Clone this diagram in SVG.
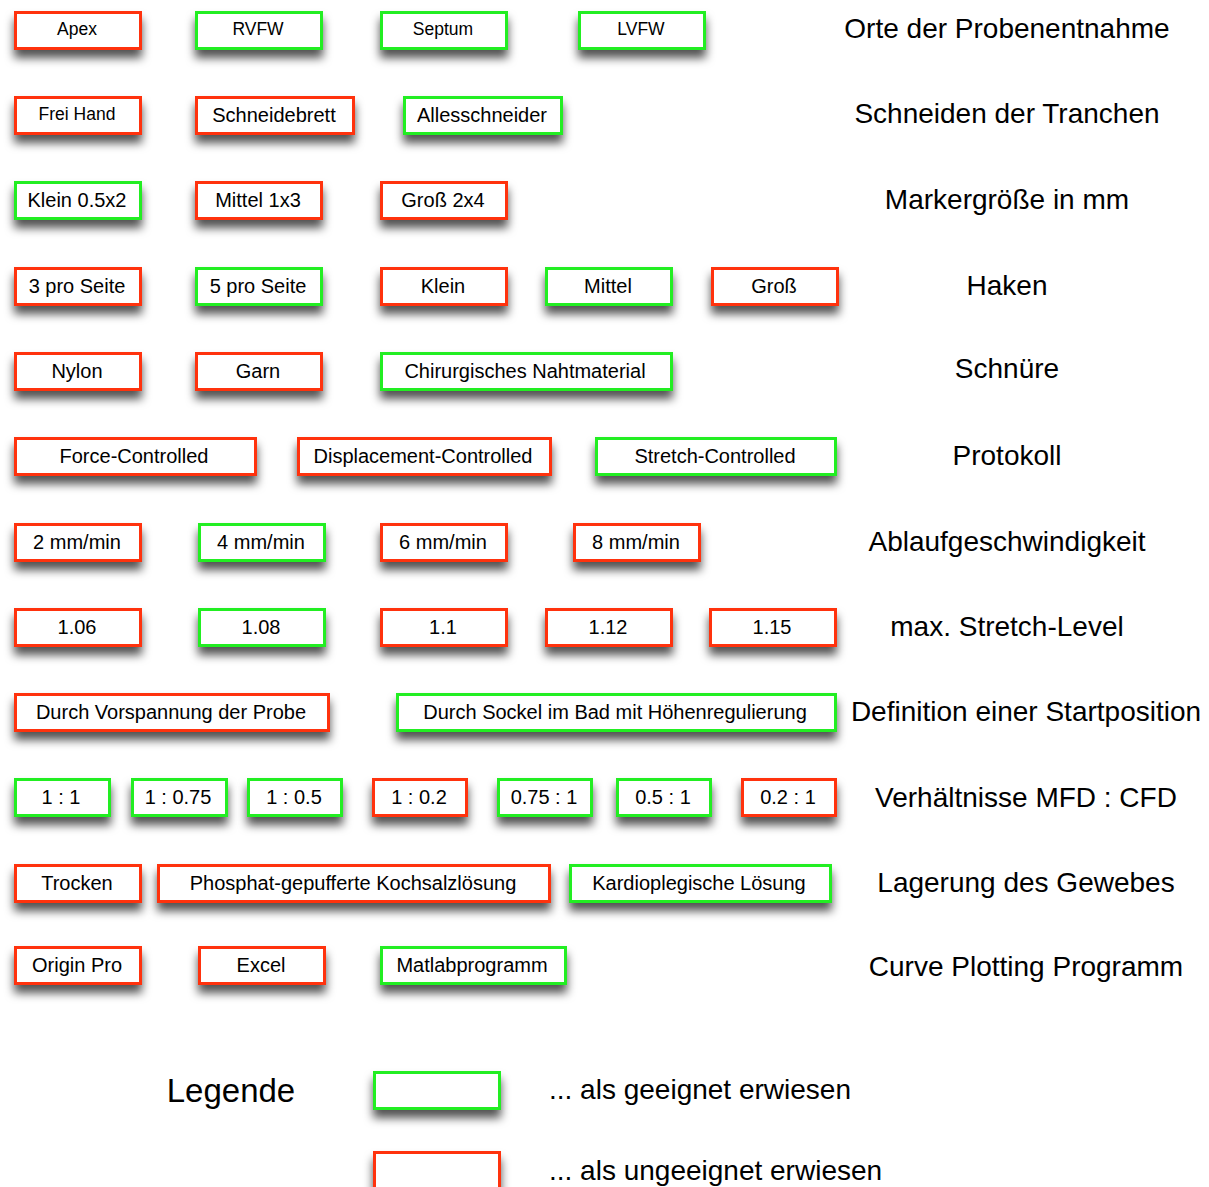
<svg xmlns="http://www.w3.org/2000/svg" width="1209" height="1187" viewBox="0 0 1209 1187">
<style>
.box{fill:#ffffff;stroke-width:3;filter:url(#sh)}
.ok{stroke:#22ee22}
.bad{stroke:#ff3311}
text{font-family:"Liberation Sans",Arial,Helvetica,sans-serif;fill:#000}
.t{font-size:20px;text-anchor:middle}
.ts{font-size:17.5px;text-anchor:middle}
.lbl{font-size:28px;text-anchor:middle}
.leg{font-size:28px}
</style>
<defs>
<filter id="sh" x="-15%" y="-40%" width="130%" height="220%">
<feDropShadow dx="0" dy="8" stdDeviation="5" flood-color="#000" flood-opacity="0.68"/>
</filter>
</defs>
<rect x="0" y="0" width="1209" height="1187" fill="#ffffff"/>
<g id="connectors"/>

<!-- Row 1 -->
<g id="n-apex"><rect class="box bad" x="15.5" y="12.5" width="125" height="36"/><text class="ts" x="77" y="35">Apex</text></g>
<g id="n-rvfw"><rect class="box ok" x="196.5" y="12.5" width="125" height="36"/><text class="ts" x="258" y="35">RVFW</text></g>
<g id="n-septum"><rect class="box ok" x="381.5" y="12.5" width="125" height="36"/><text class="ts" x="443" y="35">Septum</text></g>
<g id="n-lvfw"><rect class="box ok" x="579.5" y="12.5" width="125" height="36"/><text class="ts" x="641" y="35">LVFW</text></g>
<text class="lbl" x="1007" y="38">Orte der Probenentnahme</text>

<!-- Row 2 -->
<g id="n-freihand"><rect class="box bad" x="15.5" y="97.5" width="125" height="36"/><text class="ts" x="77" y="120">Frei Hand</text></g>
<g id="n-schneidebrett"><rect class="box bad" x="196.5" y="97.5" width="157" height="36"/><text class="t" x="274" y="122">Schneidebrett</text></g>
<g id="n-allesschneider"><rect class="box ok" x="404.5" y="97.5" width="157" height="36"/><text class="t" x="482" y="122">Allesschneider</text></g>
<text class="lbl" x="1007" y="123">Schneiden der Tranchen</text>

<!-- Row 3 -->
<g id="n-klein05"><rect class="box ok" x="15.5" y="182.5" width="125" height="36"/><text class="t" x="77" y="207">Klein 0.5x2</text></g>
<g id="n-mittel13"><rect class="box bad" x="196.5" y="182.5" width="125" height="36"/><text class="t" x="258" y="207">Mittel 1x3</text></g>
<g id="n-gross24"><rect class="box bad" x="381.5" y="182.5" width="125" height="36"/><text class="t" x="443" y="207">Groß 2x4</text></g>
<text class="lbl" x="1007" y="209">Markergröße in mm</text>

<!-- Row 4 -->
<g id="n-3pro"><rect class="box bad" x="15.5" y="268.5" width="125" height="36"/><text class="t" x="77" y="293">3 pro Seite</text></g>
<g id="n-5pro"><rect class="box ok" x="196.5" y="268.5" width="125" height="36"/><text class="t" x="258" y="293">5 pro Seite</text></g>
<g id="n-haken-klein"><rect class="box bad" x="381.5" y="268.5" width="125" height="36"/><text class="t" x="443" y="293">Klein</text></g>
<g id="n-haken-mittel"><rect class="box ok" x="546.5" y="268.5" width="125" height="36"/><text class="t" x="608" y="293">Mittel</text></g>
<g id="n-haken-gross"><rect class="box bad" x="712.5" y="268.5" width="125" height="36"/><text class="t" x="774" y="293">Groß</text></g>
<text class="lbl" x="1007" y="295">Haken</text>

<!-- Row 5 -->
<g id="n-nylon"><rect class="box bad" x="15.5" y="353.5" width="125" height="36"/><text class="t" x="77" y="378">Nylon</text></g>
<g id="n-garn"><rect class="box bad" x="196.5" y="353.5" width="125" height="36"/><text class="t" x="258" y="378">Garn</text></g>
<g id="n-chirurg"><rect class="box ok" x="381.5" y="353.5" width="290" height="36"/><text class="t" x="525" y="378">Chirurgisches Nahtmaterial</text></g>
<text class="lbl" x="1007" y="378">Schnüre</text>

<!-- Row 6 -->
<g id="n-force"><rect class="box bad" x="15.5" y="438.5" width="240" height="36"/><text class="t" x="134" y="463">Force-Controlled</text></g>
<g id="n-displacement"><rect class="box bad" x="298.5" y="438.5" width="252" height="36"/><text class="t" x="423" y="463">Displacement-Controlled</text></g>
<g id="n-stretch"><rect class="box ok" x="596.5" y="438.5" width="239" height="36"/><text class="t" x="715" y="463">Stretch-Controlled</text></g>
<text class="lbl" x="1007" y="465">Protokoll</text>

<!-- Row 7 -->
<g id="n-2mm"><rect class="box bad" x="15.5" y="524.5" width="125" height="36"/><text class="t" x="77" y="549">2 mm/min</text></g>
<g id="n-4mm"><rect class="box ok" x="199.5" y="524.5" width="125" height="36"/><text class="t" x="261" y="549">4 mm/min</text></g>
<g id="n-6mm"><rect class="box bad" x="381.5" y="524.5" width="125" height="36"/><text class="t" x="443" y="549">6 mm/min</text></g>
<g id="n-8mm"><rect class="box bad" x="574.5" y="524.5" width="125" height="36"/><text class="t" x="636" y="549">8 mm/min</text></g>
<text class="lbl" x="1007" y="551">Ablaufgeschwindigkeit</text>

<!-- Row 8 -->
<g id="n-106"><rect class="box bad" x="15.5" y="609.5" width="125" height="36"/><text class="t" x="77" y="634">1.06</text></g>
<g id="n-108"><rect class="box ok" x="199.5" y="609.5" width="125" height="36"/><text class="t" x="261" y="634">1.08</text></g>
<g id="n-11"><rect class="box bad" x="381.5" y="609.5" width="125" height="36"/><text class="t" x="443" y="634">1.1</text></g>
<g id="n-112"><rect class="box bad" x="546.5" y="609.5" width="125" height="36"/><text class="t" x="608" y="634">1.12</text></g>
<g id="n-115"><rect class="box bad" x="710.5" y="609.5" width="125" height="36"/><text class="t" x="772" y="634">1.15</text></g>
<text class="lbl" x="1007" y="636">max. Stretch-Level</text>

<!-- Row 9 -->
<g id="n-vorspannung"><rect class="box bad" x="15.5" y="694.5" width="313" height="36"/><text class="t" x="171" y="719">Durch Vorspannung der Probe</text></g>
<g id="n-sockel"><rect class="box ok" x="397.5" y="694.5" width="438" height="36"/><text class="t" x="615" y="719">Durch Sockel im Bad mit Höhenregulierung</text></g>
<text class="lbl" x="1026" y="721">Definition einer Startposition</text>

<!-- Row 10 -->
<g id="n-r1-1"><rect class="box ok" x="15.5" y="779.5" width="94" height="36"/><text class="t" x="61" y="804">1 : 1</text></g>
<g id="n-r1-075"><rect class="box ok" x="132.5" y="779.5" width="94" height="36"/><text class="t" x="178" y="804">1 : 0.75</text></g>
<g id="n-r1-05"><rect class="box ok" x="248.5" y="779.5" width="93" height="36"/><text class="t" x="294" y="804">1 : 0.5</text></g>
<g id="n-r1-02"><rect class="box bad" x="373.5" y="779.5" width="93" height="36"/><text class="t" x="419" y="804">1 : 0.2</text></g>
<g id="n-r075-1"><rect class="box ok" x="498.5" y="779.5" width="93" height="36"/><text class="t" x="544" y="804">0.75 : 1</text></g>
<g id="n-r05-1"><rect class="box ok" x="617.5" y="779.5" width="93" height="36"/><text class="t" x="663" y="804">0.5 : 1</text></g>
<g id="n-r02-1"><rect class="box bad" x="742.5" y="779.5" width="93" height="36"/><text class="t" x="788" y="804">0.2 : 1</text></g>
<text class="lbl" x="1026" y="807">Verhältnisse MFD : CFD</text>

<!-- Row 11 -->
<g id="n-trocken"><rect class="box bad" x="15.5" y="865.5" width="125" height="36"/><text class="t" x="77" y="890">Trocken</text></g>
<g id="n-phosphat"><rect class="box bad" x="158.5" y="865.5" width="391" height="36"/><text class="t" x="353" y="890">Phosphat-gepufferte Kochsalzlösung</text></g>
<g id="n-kardio"><rect class="box ok" x="570.5" y="865.5" width="260" height="36"/><text class="t" x="699" y="890">Kardioplegische Lösung</text></g>
<text class="lbl" x="1026" y="892">Lagerung des Gewebes</text>

<!-- Row 12 -->
<g id="n-origin"><rect class="box bad" x="15.5" y="947.5" width="125" height="36"/><text class="t" x="77" y="972">Origin Pro</text></g>
<g id="n-excel"><rect class="box bad" x="199.5" y="947.5" width="125" height="36"/><text class="t" x="261" y="972">Excel</text></g>
<g id="n-matlab"><rect class="box ok" x="381.5" y="947.5" width="184" height="36"/><text class="t" x="472" y="972">Matlabprogramm</text></g>
<text class="lbl" x="1026" y="976">Curve Plotting Programm</text>

<!-- Legend -->
<g id="legend">
<text x="231" y="1102" style="font-size:33px;text-anchor:middle">Legende</text>
<g id="legend-ok"><rect class="box ok" x="374.5" y="1072.5" width="125" height="36"/><text class="leg" x="549" y="1099">... als geeignet erwiesen</text></g>
<g id="legend-bad"><rect class="box bad" x="374.5" y="1152.5" width="125" height="36"/><text class="leg" x="549" y="1180">... als ungeeignet erwiesen</text></g>
</g>
</svg>
